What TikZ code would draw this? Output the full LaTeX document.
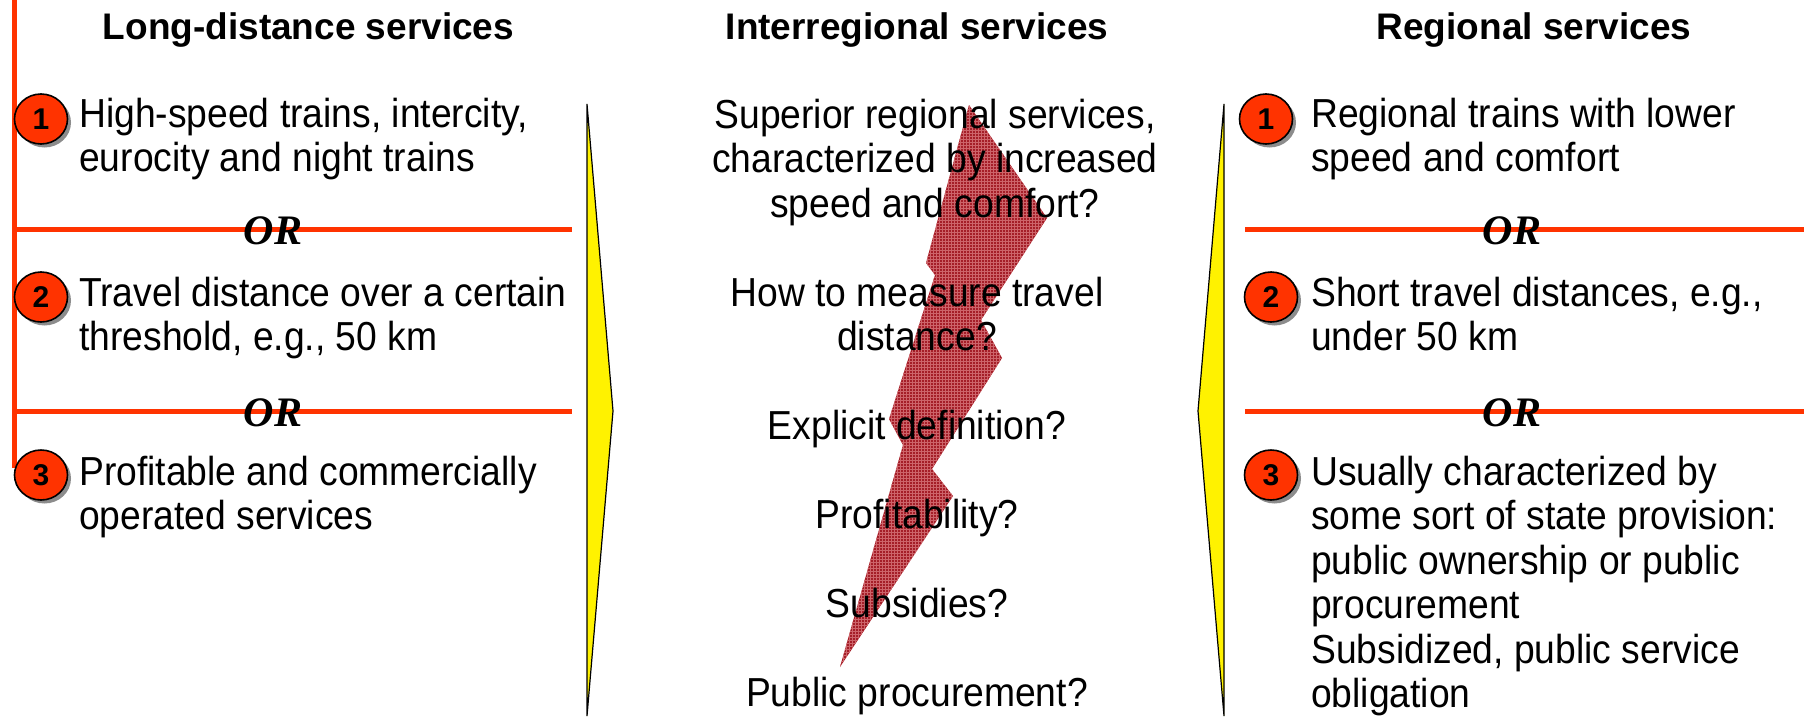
\documentclass[tikz,border=0pt]{standalone}
\usepackage{fontspec}
\setmainfont{Liberation Sans}
\newfontfamily\narrowsans[FakeStretch=0.92]{Liberation Sans}
\newfontfamily\orserif{Liberation Serif}
\usetikzlibrary{shapes.geometric,shadows,patterns}
\definecolor{orred}{RGB}{255,51,0}
\definecolor{arrowyellow}{RGB}{255,242,0}
\definecolor{boltred}{RGB}{165,30,40}
\definecolor{boltgrid}{RGB}{205,100,106}

\begin{document}
\begin{tikzpicture}[x=1pt,y=-1pt,
  head/.style={font=\bfseries\fontsize{37}{44}\selectfont, inner sep=0pt, anchor=base},
  % multi-line nodes: the base anchor sits on the last line
  item/.style={font=\narrowsans\fontsize{40.5}{44.5}\selectfont, align=left, inner sep=0pt, anchor=base west},
  question/.style={font=\narrowsans\fontsize{40.5}{44.5}\selectfont, align=center, inner sep=0pt, anchor=base},
  orrule/.style={draw=orred, line width=5pt},
  ormark/.style={font=\orserif\bfseries\itshape\fontsize{42}{42}\selectfont, inner sep=0pt},
  badge/.style={ellipse, draw=black, line width=1.6pt, fill=orred,
    minimum width=53pt, minimum height=50pt, inner sep=0pt,
    font=\bfseries\fontsize{30}{30}\selectfont,
    drop shadow={shadow xshift=3.5pt, shadow yshift=-3.5pt, fill=black!45, opacity=1}},
  chevron/.style={fill=arrowyellow, draw=black, line width=1.2pt, line join=miter},
]
\useasboundingbox (0,0) rectangle (1804,718);

% lightning bolt behind the interregional questions
\coordinate (b1) at (969,105);
\coordinate (b2) at (1047,218);
\coordinate (b3) at (981,320);
\coordinate (b4) at (1002,358);
\coordinate (b5) at (932,469);
\coordinate (b6) at (953,496);
\coordinate (b7) at (840,667);
\coordinate (b8) at (903,445);
\coordinate (b9) at (889,419);
\coordinate (b10) at (935,275);
\coordinate (b11) at (926,263);
\fill[boltred] (b1)--(b2)--(b3)--(b4)--(b5)--(b6)--(b7)--(b8)--(b9)--(b10)--(b11)--cycle;
\fill[pattern=grid, pattern color=boltgrid] (b1)--(b2)--(b3)--(b4)--(b5)--(b6)--(b7)--(b8)--(b9)--(b10)--(b11)--cycle;

% yellow chevrons pointing to the middle column
\draw[chevron] (587,104) -- (613,411) -- (587,716) -- cycle;
\draw[chevron] (1224,104) -- (1198,411) -- (1224,716) -- cycle;

% column headings
\node[head] (hL) at (308.5,39) {Long-distance services};
\node[head] (hM) at (917,39) {Interregional services};
\node[head] (hR) at (1534,39) {Regional services};

% left column rules
\coordinate (vtop) at (14.5,0);
\coordinate (vbot) at (14.5,468);
\draw[draw=orred, line width=4.5pt] (vtop) -- (vbot);
\coordinate (l1a) at (14.5,229); \coordinate (l1b) at (572,229);
\coordinate (l2a) at (14.5,411); \coordinate (l2b) at (572,411);
\draw[orrule] (l1a) -- (l1b);
\draw[orrule] (l2a) -- (l2b);
\node[ormark] (orL1) at (273,231) {OR};
\node[ormark] (orL2) at (273,413) {OR};

% right column rules
\coordinate (r1a) at (1245,229); \coordinate (r1b) at (1804,229);
\coordinate (r2a) at (1245,411); \coordinate (r2b) at (1804,411);
\draw[orrule] (r1a) -- (r1b);
\draw[orrule] (r2a) -- (r2b);
\node[ormark] (orR1) at (1512,231) {OR};
\node[ormark] (orR2) at (1512,413) {OR};

% numbered badges
\node[badge] (nL1) at (41,119) {1};
\node[badge] (nL2) at (41,297) {2};
\node[badge] (nL3) at (41,475) {3};
\node[badge] (nR1) at (1266,119) {1};
\node[badge] (nR2) at (1271,297) {2};
\node[badge] (nR3) at (1271,475) {3};

% left column items
\node[item] (tL1) at (79,171.5) {High-speed trains, intercity,\\eurocity and night trains};
\node[item] (tL2) at (79,350.5) {Travel distance over a certain\\threshold, e.g., 50 km};
\node[item] (tL3) at (79,529.5) {Profitable and commercially\\operated services};

% right column items
\node[item] (tR1) at (1311,171.5) {Regional trains with lower\\speed and comfort};
\node[item] (tR2) at (1311,350.5) {Short travel distances, e.g.,\\under 50 km};
\node[item] (tR3) at (1311,707.5) {Usually characterized by\\some sort of state provision:\\public ownership or public\\procurement\\Subsidized, public service\\obligation};

% middle column questions
\node[question] (q1) at (935,217) {Superior regional services,\\characterized by increased\\speed and comfort?};
\node[question] (q2) at (917,350.5) {How to measure travel\\distance?};
\node[question] (q3) at (917,439.5) {Explicit definition?};
\node[question] (q4) at (917,528.5) {Profitability?};
\node[question] (q5) at (917,617.5) {Subsidies?};
\node[question] (q6) at (917,706.5) {Public procurement?};
\end{tikzpicture}
\end{document}
